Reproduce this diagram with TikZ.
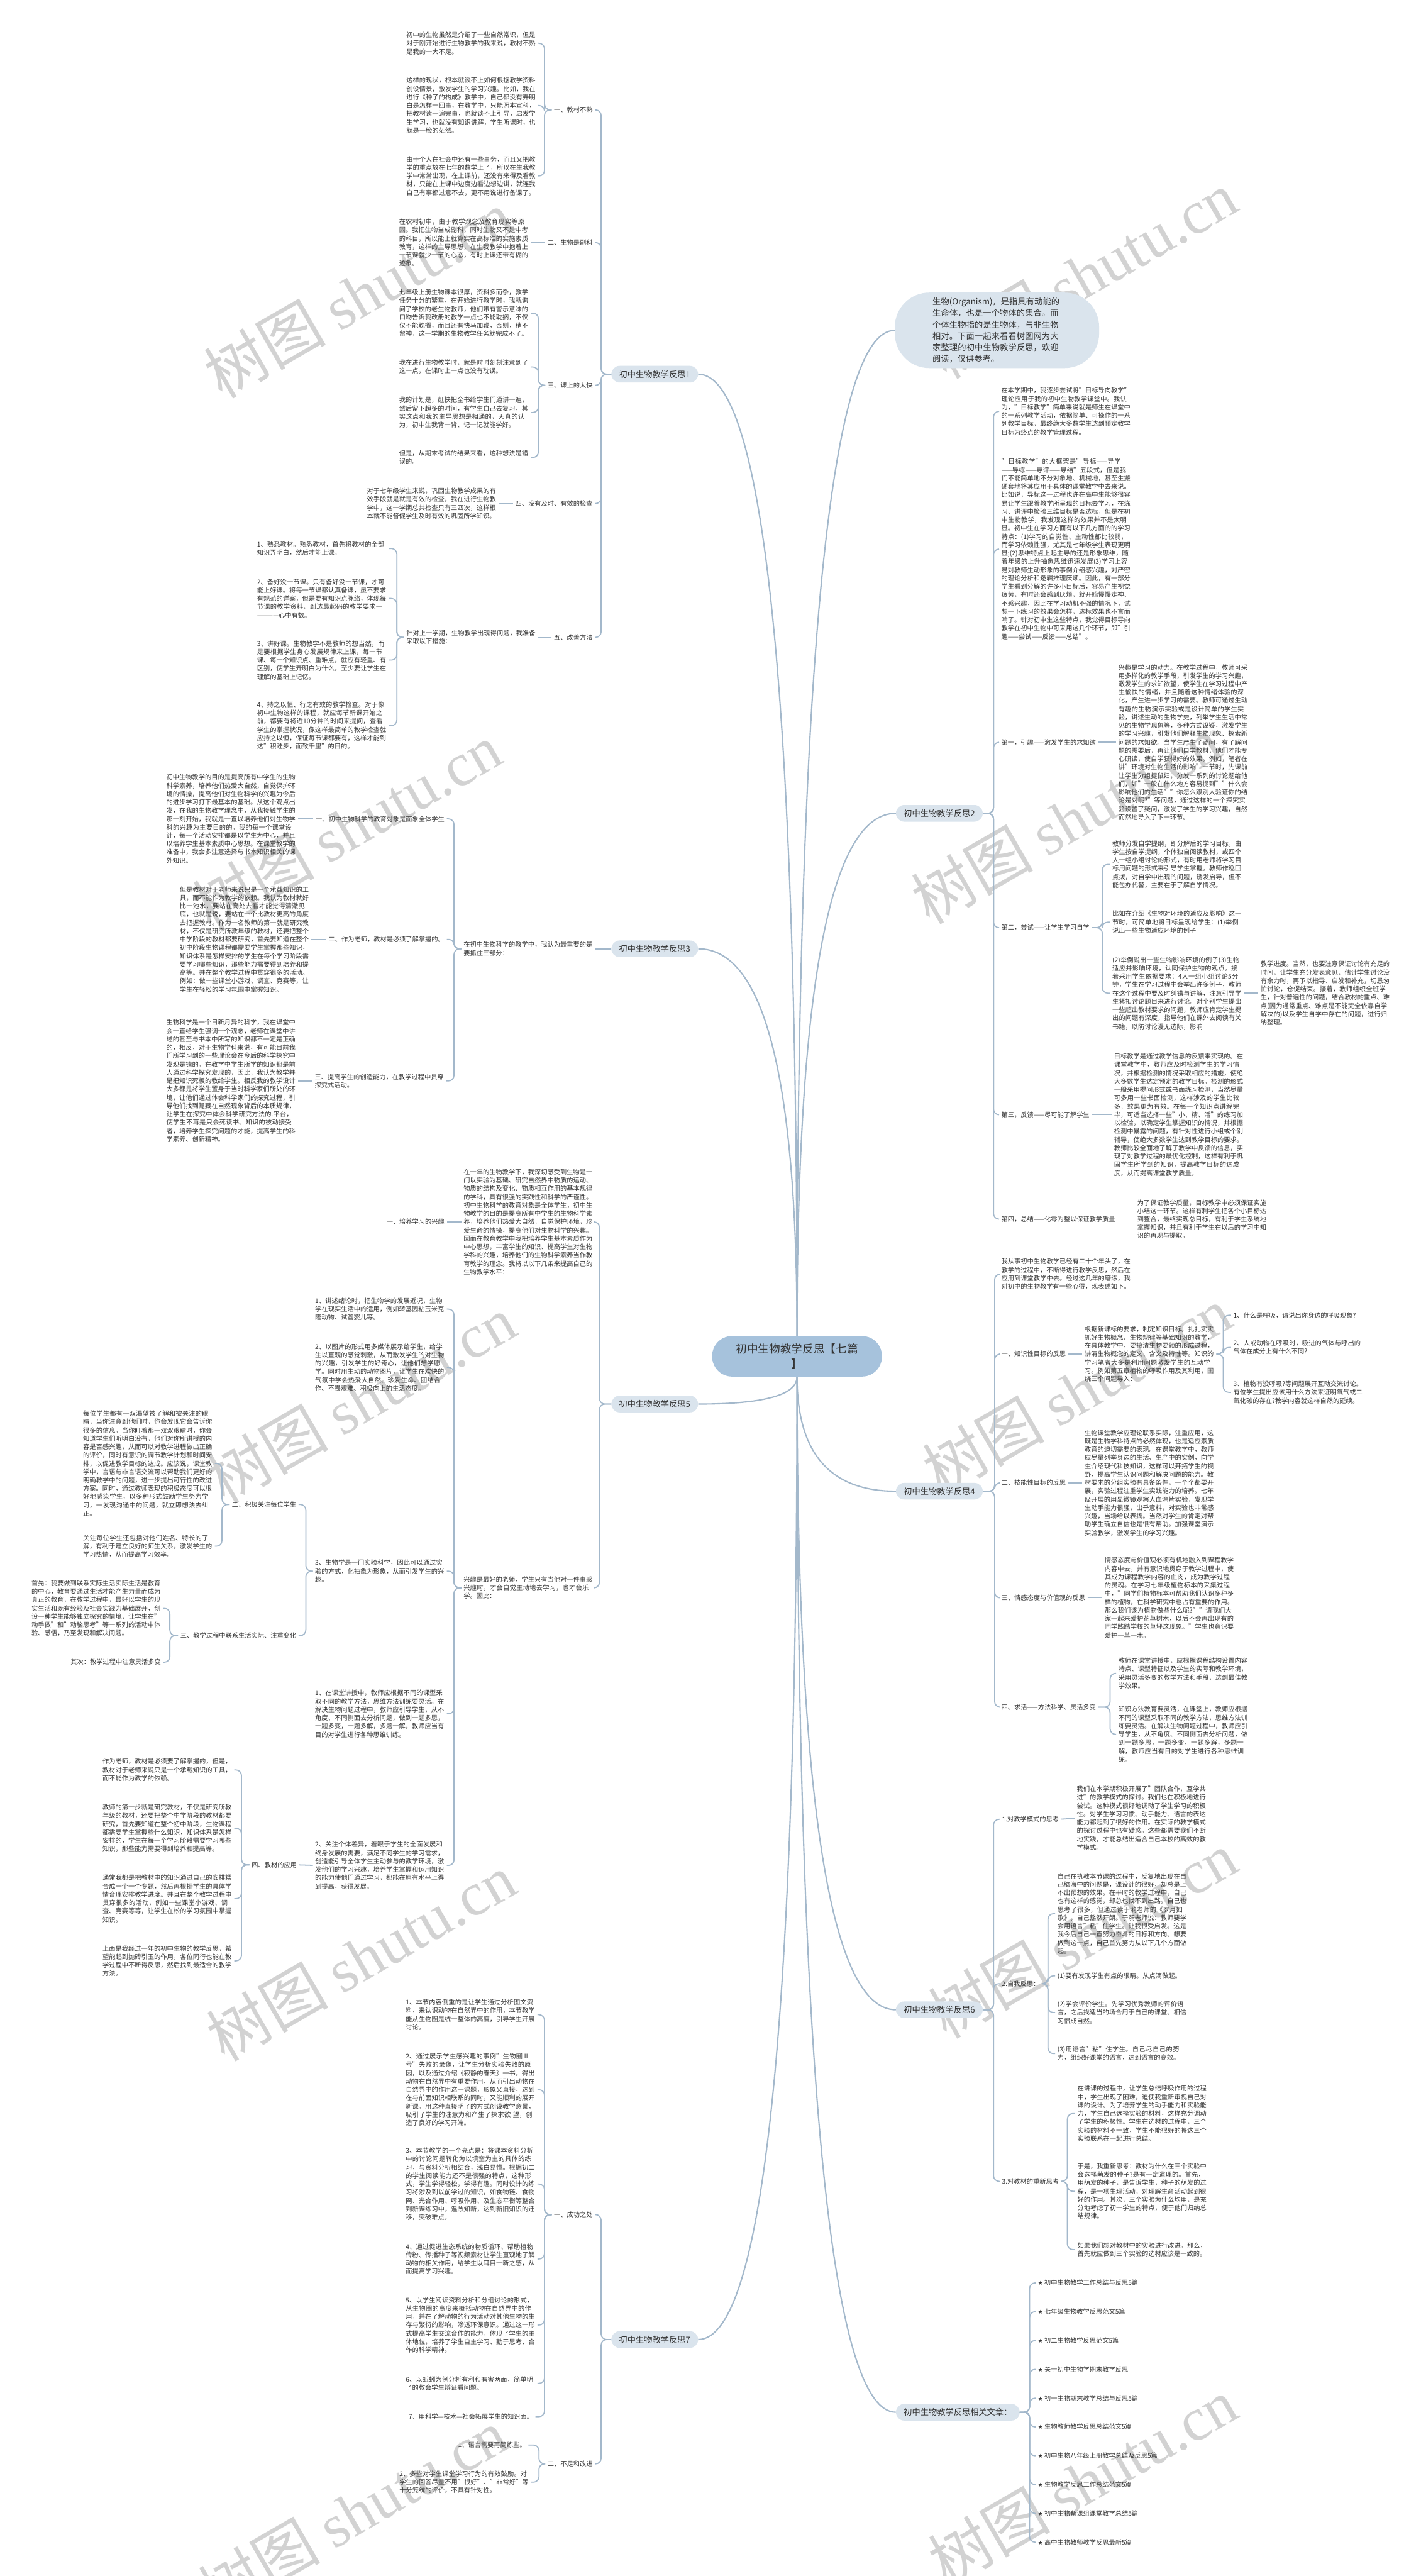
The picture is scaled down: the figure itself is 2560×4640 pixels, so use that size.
\documentclass[tikz,border=0pt]{standalone}
\usepackage{fontspec}
\usetikzlibrary{calc}
\setmainfont{Noto Sans CJK SC}
\newfontfamily\wmserif{Liberation Serif}
\newfontfamily\symfont{DejaVu Sans}
\XeTeXlinebreaklocale "zh"
\XeTeXlinebreakskip = 0pt plus 1pt
\definecolor{lc}{HTML}{A3B8CB}
\definecolor{nf}{HTML}{DAE4ED}
\definecolor{cf}{HTML}{A6C2DC}
\definecolor{tc}{HTML}{333333}
\definecolor{wmc}{HTML}{D2D2D2}
\newcommand\ftxt{\fontsize{11.6}{15}\selectfont}
\newcommand\ftopic{\fontsize{15}{18}\selectfont}
\newcommand\fintro{\fontsize{15}{20.5}\selectfont}
\newcommand\fcenter{\fontsize{20}{27}\selectfont}
\newcommand\fwm{\fontsize{110}{110}\selectfont}
\newcommand\myL[4][tconn]{\draw[#1] (#2.west) -- (#2.west -| #3) |- (#4.east);}
\newcommand\myR[4][tconn]{\draw[#1] (#2.east) -- (#2.east -| #3) |- (#4.west);}
\newcommand\mainc[3]{\draw[mconn] (#3) .. controls ($(#3)!0.667!(#3 |- #1.#2)$) and ($(#1.#2)!0.667!(#3 |- #1.#2)$) .. (#1.#2);}
\tikzset{
 txt/.style={font=\ftxt, text=tc, text width=233pt, align=left, inner sep=0pt},
 lab/.style={font=\ftxt, text=tc, inner sep=0pt},
 topic/.style={font=\ftopic, text=tc, fill=nf, rounded corners=15pt, inner xsep=14pt, inner ysep=0pt, minimum height=30pt},
 tconn/.style={draw=lc, line width=2pt, rounded corners=10pt, shorten <=4pt, shorten >=4pt},
 nconn/.style={draw=lc, line width=2pt, rounded corners=10pt, shorten >=4pt},
 mconn/.style={draw=lc, line width=2.4pt},
 wm/.style={text=wmc, font=\fwm, rotate=30, inner sep=0pt},
}
\begin{document}
\begin{tikzpicture}[x=1pt,y=-1pt]
\useasboundingbox (0,0) rectangle (2560,4640);
\fill[white] (0,0) rectangle (2560,4640);

% watermarks
\foreach \p in {(645,530),(625,1490),(650,2520),(650,3525),(635,4525),(1950,495),(1920,1477),(1940,2505),(1950,3485),(1950,4470)}
  \node[wm] at \p {树图 {\wmserif shutu.cn}};

% coordinates
\coordinate (Cc) at (1436,2443);
\coordinate (Ct) at (1436,2407);
\coordinate (Cb) at (1436,2480);
\coordinate (b1) at (1083,0);
\coordinate (b1a) at (981,0);
\coordinate (b1c) at (970,0);
\coordinate (b1e) at (715,0);
\coordinate (b3) at (818,0);
\coordinate (b5) at (1080,0);
\coordinate (b5b) at (818,0);
\coordinate (b5c) at (551,0);
\coordinate (b5d) at (400,0);
\coordinate (b5e) at (306,0);
\coordinate (b5f) at (435,0);
\coordinate (b7) at (1083,0);
\coordinate (b7a) at (981,0);
\coordinate (b7b) at (971,0);
\coordinate (b2) at (1790,0);
\coordinate (b2b) at (1986,0);
\coordinate (b4) at (1792,0);
\coordinate (b4a) at (2204,0);
\coordinate (b4d) at (2000,0);
\coordinate (b6) at (1790,0);
\coordinate (b6b) at (1888,0);
\coordinate (b6c) at (1923,0);
\coordinate (bR) at (1855,0);

% main topics
\node[topic,anchor=east] (N1) at (1258,674) {初中生物教学反思1};
\node[topic,anchor=east] (N3) at (1258,1709) {初中生物教学反思3};
\node[topic,anchor=east] (N5) at (1258,2529) {初中生物教学反思5};
\node[topic,anchor=east] (N7) at (1258,4214) {初中生物教学反思7};
\node[fill=nf, font=\fintro, text=tc, text width=232pt, align=left, inner xsep=68pt, inner ysep=6pt, minimum height=136pt, rounded corners=62pt, anchor=west] (I) at (1612,595) {生物(Organism)，是指具有动能的生命体，也是一个物体的集合。而个体生物指的是生物体，与非生物相对。下面一起来看看树图网为大家整理的初中生物教学反思，欢迎阅读，仅供参考。};
\node[topic,anchor=west] (N2) at (1614,1465) {初中生物教学反思2};
\node[topic,anchor=west] (N4) at (1614,2686) {初中生物教学反思4};
\node[topic,anchor=west] (N6) at (1614,3620) {初中生物教学反思6};
\node[topic,anchor=west] (NR) at (1614,4345) {初中生物教学反思相关文章：};

\mainc{N1}{east}{Ct}
\mainc{N3}{east}{Ct}
\mainc{N5}{east}{Cb}
\mainc{N7}{east}{Cb}
\mainc{I}{west}{Ct}
\mainc{N2}{west}{Ct}
\mainc{N4}{west}{Cb}
\mainc{N6}{west}{Cb}
\mainc{NR}{west}{Cb}

% center node
\node[fill=cf, text=tc, font=\fcenter, rounded corners=36pt, minimum width=306pt, minimum height=73pt, align=center, inner ysep=4pt] (C) at (Cc) {初中生物教学反思【七篇\\】};

% ===== 反思1 =====
\node[lab,anchor=east] (a1) at (1068,198) {一、教材不熟};
\node[lab,anchor=east] (a2) at (1068,437) {二、生物是副科};
\node[lab,anchor=east] (a3) at (1068,694) {三、课上的太快};
\node[lab,anchor=east] (a4) at (1068,907) {四、没有及时、有效的检查};
\node[lab,anchor=east] (a5) at (1068,1148) {五、改善方法};
\foreach \c in {a1,a2,a3,a4,a5} {\myL[nconn]{N1}{b1}{\c}}
\node[txt,anchor=west] (t1a) at (732,78) {初中的生物虽然是介绍了一些自然常识，但是对于刚开始进行生物教学的我来说，教材不熟是我的一大不足。};
\node[txt,anchor=west] (t1b) at (732,190) {这样的现状，根本就谈不上如何根据教学资料创设情景，激发学生的学习兴趣。比如，我在进行《种子的构成》教学中，自己都没有弄明白是怎样一回事，在教学中，只能照本宣科，把教材读一遍完事，也就谈不上引导，启发学生学习，也就没有知识讲解，学生听课时，也就是一脸的茫然。};
\node[txt,anchor=west] (t1c) at (732,317) {由于个人在社会中还有一些事务，而且又把教学的重点放在七年的数学上了，所以在生我教学中常常出现，在上课前，还没有来得及看教材，只能在上课中边度边看边想边讲，就连我自己有事都过意不去，更不用说进行备课了。};
\foreach \c in {t1a,t1b,t1c} {\myL{a1}{b1a}{\c}}
\node[txt,anchor=west] (t2a) at (719,437) {在农村初中，由于教学观念及教育现实等原因。我把生物当成副科，同时生物又不是中考的科目，所以能上就算实在高标准的实施素质教育，这样的主导思想，在生我教学中抱着上一节课就少一节的心态，有时上课还带有糊的迹象。};
\draw[tconn] (a2.west) -- (t2a.east);
\node[txt,anchor=west] (t3a) at (719,564) {七年级上册生物课本很厚，资料多而杂，教学任务十分的繁重，在开始进行教学时，我就询问了学校的老生物教师，他们带有警示意味的口吻告诉我改册的教学一点也不能耽搁，不仅仅不能耽搁，而且还有快马加鞭，否则，稍不留神，这一学期的生物教学任务就完成不了。};
\node[txt,anchor=west] (t3b) at (719,661) {我在进行生物教学时，就是时时刻刻注意到了这一点，在课时上一点也没有耽误。};
\node[txt,anchor=west] (t3c) at (719,743) {我的计划是，赶快把全书给学生们通讲一遍，然后留下超多的时间，有学生自己去复习，其实这点和我的主导思想是相通的，天真的认为，初中生我背一背、记一记就能学好。};
\node[txt,anchor=west] (t3d) at (719,824) {但是，从期末考试的结果来看，这种想法是错误的。};
\foreach \c in {t3a,t3b,t3c,t3d} {\myL{a3}{b1c}{\c}}
\node[txt,anchor=west] (t4a) at (661,907) {对于七年级学生来说，巩固生物教学成果的有效手段就是就是有效的检查，我在进行生物教学中，这一学期总共检查只有三四次，这样根本就不能督促学生及时有效的巩固所学知识。};
\draw[tconn] (a4.west) -- (t4a.east);
\node[txt,anchor=west] (t5) at (732,1148) {针对上一学期，生物教学出现得问题，我准备采取以下措施：};
\draw[tconn] (a5.west) -- (t5.east);
\node[txt,anchor=west] (t5a) at (463,988) {1、熟悉教材。熟悉教材，首先将教材的全部知识弄明白，然后才能上课。};
\node[txt,anchor=west] (t5b) at (463,1078) {2、备好没一节课。只有备好没一节课，才可能上好课。将每一节课都认真备课，虽不要求有规范的详案，但是要有知识点脉络，体现每节课的教学资料，到达最起码的教学要求一————心中有数。};
\node[txt,anchor=west] (t5c) at (463,1189) {3、讲好课。生物教学不是教师的想当然，而是要根据学生身心发展规律来上课，每一节课、每一个知识点、重难点，就应有轻重、有区别，使学生弄明白为什么，至少要让学生在理解的基础上记忆。};
\node[txt,anchor=west] (t5d) at (463,1307) {4、持之以恒、行之有效的教学检查。对于像初中生物这样的课程，就应每节新课开始之前，都要有将近10分钟的时间来提问，查看学生的掌握状况，像这样最简单的教学检查就应持之以恒，保证每节课都要有，这样才能到达"积跬步，而致千里"的目的。};
\foreach \c in {t5a,t5b,t5c,t5d} {\myL{t5}{b1e}{\c}}

% ===== 反思3 =====
\node[txt,anchor=west] (s3) at (835,1709) {在初中生物科学的教学中，我认为最重要的是要抓住三部分：};
\draw[nconn] (N3.west) -- (s3.east);
\node[lab,anchor=east] (s3a) at (801,1475) {一、初中生物科学的教育对象是面象全体学生};
\node[lab,anchor=east] (s3b) at (801,1692) {二、作为老师，教材是必须了解掌握的。};
\node[txt,anchor=west] (s3c) at (567,1947) {三、提高学生的创造能力，在教学过程中贯穿探究式活动。};
\foreach \c in {s3a,s3b,s3c} {\myL{s3}{b3}{\c}}
\node[txt,anchor=east] (u3a) at (533,1475) {初中生物教学的目的是提高所有中学生的生物科学素养，培养他们热爱大自然，自觉保护环境的情操，提高他们对生物科学的兴趣为今后的进步学习打下最基本的基础。从这个观点出发，在我的生物教学理念中，从我接触学生的那一刻开始，我就是一直以培养他们对生物学科的兴趣为主要目的的。我的每一个课堂设计，每一个活动安排都是以学生为中心，并且以培养学生基本素质中心思想。在课堂教学的准备中，我会多注意选择与书本知识相关的课外知识。};
\node[txt,anchor=east] (u3b) at (557,1692) {但是教材对于老师来说只是一个承载知识的工具，而不能作为教学的依赖。我认为教材就好比一池水，要站在高处去看才能觉得清澈见底，也就是说，要站在一个比教材更高的角度去把握教材。作为一名教师的第一就是研究教材，不仅是研究所教年级的教材，还要把整个中学阶段的教材都要研究，首先要知道在整个初中阶段生物课程都需要学生掌握那些知识，知识体系是怎样安排的学生在每个学习阶段需要学习哪些知识，那些能力需要得到培养和提高等。并在整个教学过程中贯穿很多的活动。例如：做一些课堂小游戏、调查、竞赛等，让学生在轻松的学习氛围中掌握知识。};
\node[txt,anchor=east] (u3c) at (533,1947) {生物科学是一个日新月异的科学，我在课堂中会一直给学生强调一个观念，老师在课堂中讲述的甚至与书本中所写的知识都不一定是正确的，相反，对于生物学科来说，有可能目前我们所学习到的一些理论会在今后的科学探究中发现是错的。在教学中学生所学的知识都是前人通过科学探究发现的，因此，我认为教学并是把知识死板的教给学生。相反我的教学设计大多都是将学生置身于当时科学家们所处的环境，让他们通过体会科学家们的探究过程，引导他们找到隐藏在自然现象背后的本质规律，让学生在探究中体会科学研究方法的.平台，使学生不再是只会死读书、知识的被动接受者，培养学生探究问题的才能，提高学生的科学素养、创新精神。};
\draw[tconn] (s3a.west) -- (u3a.east);
\draw[tconn] (s3b.west) -- (u3b.east);
\draw[tconn] (s3c.west) -- (u3c.east);

% ===== 反思5 =====
\node[txt,anchor=west] (u0) at (835,2201) {在一年的生物教学下，我深切感受到生物是一门以实验为基础、研究自然界中物质的运动、物质的结构及变化、物质相互作用的基本规律的学科，具有很强的实践性和科学的严谨性。初中生物科学的教育对象是全体学生，初中生物教学的目的是提高所有中学生的生物科学素养，培养他们热爱大自然，自觉保护环境，珍爱生命的情操，提高他们对生物科学的兴趣。因而在教育教学中我把培养学生基本素质作为中心思想，丰富学生的知识、提高学生对生物学科的兴趣，培养他们的生物科学素养当作教育教学的理念。我将以以下几条来提高自己的生物教学水平：};
\node[txt,anchor=west] (u1) at (835,2860) {兴趣是最好的老师，学生只有当他对一件事感兴趣时，才会自觉主动地去学习，也才会乐学。因此：};
\myL[nconn]{N5}{b5}{u0}
\myL[nconn]{N5}{b5}{u1}
\node[lab,anchor=east] (u0a) at (801,2201) {一、培养学习的兴趣};
\draw[tconn] (u0.west) -- (u0a.east);
\node[txt,anchor=east] (v1) at (801,2358) {1、讲述绪论时，把生物学的发展近况，生物学在现实生活中的运用，例如转基因粘玉米克隆动物、试管婴儿等。};
\node[txt,anchor=east] (v2) at (801,2463) {2、以图片的形式用多媒体展示给学生，给学生以直观的感觉刺激，从而激发学生的对生物的兴趣，引发学生的好奇心，让他们想学愿学。同时用生动的动物图片，让学生在欢快的气氛中学会热爱大自然、珍爱生命、团结合作、不畏艰难、积极向上的生活态度。};
\node[txt,anchor=east] (v3) at (801,2830) {3、生物学是一门实验科学，因此可以通过实验的方式，化抽象为形象，从而引发学生的兴趣。};
\node[txt,anchor=east] (v4) at (801,3087) {1、在课堂讲授中，教师应根据不同的课型采取不同的教学方法，思维方法训练要灵活。在解决生物问题过程中，教师应引导学生，从不角度、不同侧面去分析问题，做到一题多思，一题多变，一题多解，多题一解，教师应当有目的对学生进行各种思维训练。};
\node[txt,anchor=east] (v5) at (801,3360) {2、关注个体差异，着眼于学生的全面发展和终身发展的需要，满足不同学生的学习需求，创造能引导全体学生主动参与的教学环境，激发他们的学习兴趣，培养学生掌握和运用知识的能力使他们通过学习，都能在原有水平上得到提高，获得发展。};
\foreach \c in {v1,v2,v3,v4,v5} {\myL{u1}{b5b}{\c}}
\node[lab,anchor=east] (w1) at (534,2710) {二、积极关注每位学生};
\node[lab,anchor=east] (w2) at (534,2946) {三、教学过程中联系生活实际、注重变化};
\myL{v3}{b5c}{w1}
\myL{v3}{b5c}{w2}
\node[txt,anchor=east] (x1) at (383,2636) {每位学生都有一双渴望被了解和被关注的眼睛，当你注意到他们时，你会发现它会告诉你很多的信息。当你盯着那一双双眼睛时，你会知道学生们听明白没有，他们对你所讲授的内容是否感兴趣，从而可以对教学进程做出正确的评价，同时有意识的调节教学计划和时间安排，以促进教学目标的达成。应该说，课堂教学中，言语与非言语交流可以帮助我们更好的明确教学中的问题，进一步提出可行性的改进方案。同时，通过教师表现的积极态度可以很好地感染学生，以多种形式鼓励学生努力学习，一发现沟通中的问题，就立即想法去纠正。};
\node[txt,anchor=east] (x2) at (383,2785) {关注每位学生还包括对他们姓名、特长的了解，有利于建立良好的师生关系，激发学生的学习热情，从而提高学习效率。};
\myL{w1}{b5d}{x1}
\myL{w1}{b5d}{x2}
\node[txt,anchor=east] (x3) at (290,2897) {首先：我要做到联系实际生活实际生活是教育的中心，教育要通过生活才能产生力量而成为真正的教育，在教学过程中，最好以学生的现实生活和既有经验及社会实践为基础展开，创设一种学生能够独立探究的情境，让学生在"动手做"和"动脑思考"等一系列的活动中体验、感悟，乃至发现和解决问题。};
\node[lab,anchor=east] (x4) at (290,2994) {其次：教学过程中注意灵活多变};
\myL{w2}{b5e}{x3}
\myL{w2}{b5e}{x4}
\node[lab,anchor=east] (w3) at (535,3359) {四、教材的应用};
\draw[tconn] (v5.west) -- (w3.east);
\node[txt,anchor=east] (y1) at (418,3188) {作为老师，教材是必须要了解掌握的，但是，教材对于老师来说只是一个承载知识的工具，而不能作为教学的依赖。};
\node[txt,anchor=east] (y2) at (418,3293) {教师的第一步就是研究教材，不仅是研究所教年级的教材，还要把整个中学阶段的教材都要研究，首先要知道在整个初中阶段，生物课程都需要学生掌握些什么知识，知识体系是怎样安排的，学生在每一个学习阶段需要学习哪些知识，那些能力需要得到培养和提高等。};
\node[txt,anchor=east] (y3) at (418,3420) {通常我都是把教材中的知识通过自己的安排糅合成一个一个专题，然后再根据学生的具体学情合理安排教学进度。并且在整个教学过程中贯穿很多的活动，例如一些课堂小游戏、调查、竞赛等等，让学生在松的学习氛围中掌握知识。};
\node[txt,anchor=east] (y4) at (418,3532) {上面是我经过一年的初中生物的教学反思，希望能起到抛砖引玉的作用，各位同行也能在教学过程中不断得反思，然后找到最适合的教学方法。};
\foreach \c in {y1,y2,y3,y4} {\myL{w3}{b5f}{\c}}

% ===== 反思7 =====
\node[lab,anchor=east] (g1) at (1068,3989) {一、成功之处};
\node[lab,anchor=east] (g2) at (1068,4438) {二、不足和改进};
\myL[nconn]{N7}{b7}{g1}
\myL[nconn]{N7}{b7}{g2}
\node[txt,anchor=west] (h1) at (731,3629) {1、本节内容侧重的是让学生通过分析图文资料，来认识动物在自然界中的作用，本节教学能从生物圈是统一整体的高度，引导学生开展讨论。};
\node[txt,anchor=west] (h2) at (731,3764) {2、通过展示学生感兴趣的事例"生物圈Ⅱ号"失败的录像，让学生分析实验失败的原因，以及通过介绍《寂静的春天》一书，得出动物在自然界中有重要作用，从而引出动物在自然界中的作用这一课题，形象又直接，达到在与前面知识相联系的同时，又能顺利的展开新课。用这种直接明了的方式创设教学意景，吸引了学生的注意力和产生了探求欲 望，创造了良好的学习开端。};
\node[txt,anchor=west] (h3) at (731,3934) {3、本节教学的一个亮点是：将课本资料分析中的讨论问题转化为以填空为主的具体的练习，与资料分析相结合，浅白易懂。根据初二的学生阅读能力还不是很强的特点，这种形式，学生学得轻松，学得有趣。同时设计的练习将涉及到以前学过的知识，如食物链、食物网、光合作用、呼吸作用、及生态平衡等整合到新课练习中，温故知新，达到新旧知识的迁移，突破难点。};
\node[txt,anchor=west] (h4) at (731,4069) {4、通过促进生态系统的物质循环、帮助植物传粉、传播种子等视频素材让学生直观地了解动物的相关作用，给学生以耳目一新之感，从而提高学习兴趣。};
\node[txt,anchor=west] (h5) at (731,4188) {5、以学生阅读资料分析和分组讨论的形式，从生物圈的高度来概括动物在自然界中的作用，并在了解动物的行为活动对其他生物的生存与繁衍的影响，渗透环保意识。通过这一形式提高学生交流合作的能力，体现了学生的主体地位，培养了学生自主学习、勤于思考、合作的科学精神。};
\node[txt,anchor=west] (h6) at (731,4293) {6、以蚯蚓为例分析有利和有害两面，简单明了的教会学生辩证看问题。};
\node[lab,anchor=west] (h7) at (736,4353) {7、用科学—技术—社会拓展学生的知识面。};
\foreach \c in {h1,h2,h3,h4,h5,h6,h7} {\myL{g1}{b7a}{\c}}
\node[lab,anchor=east] (k1) at (948,4404) {1、语言需要再简练些。};
\node[txt,anchor=east] (k2) at (953,4471) {2、多些对学生课堂学习行为的有效鼓励。对学生的回答尽量不用"很好"、"非常好"等十分笼统的评价，不具有针对性。};
\myL{g2}{b7b}{k1}
\myL{g2}{b7b}{k2}

% ===== 反思2 =====
\node[txt,anchor=west] (p1) at (1804,741) {在本学期中，我逐步尝试将"目标导向教学"理论应用于我的初中生物教学课堂中。我认为，"目标教学"简单来说就是师生在课堂中的一系列教学活动，依据简单、可操作的一系列教学目标，最终绝大多数学生达到预定教学目标为终点的教学管理过程。};
\node[txt,anchor=west] (p2) at (1804,989) {"目标教学"的大框架是"导标——导学——导练——导评——导结"五段式，但是我们不能简单地不分对象地、机械地，甚至生搬硬套地将其应用于具体的课堂教学中去来说。比如说，导标这一过程也许在高中生能够很容易让学生跟着教学所呈现的目标去学习，在练习、讲评中检验三维目标是否达标，但是在初中生物教学，我发现这样的效果并不是太明显。初中生在学习方面有以下几方面的的学习特点：(1)学习的自觉性、主动性都比较弱，而学习依赖性强，尤其是七年级学生表现更明显;(2)思维特点上起主导的还是形象思维，随着年级的上升抽象思维迅速发展(3)学习上容易对教师生动形象的事例介绍感兴趣，对严密的理论分析和逻辑推理厌烦。因此，有一部分学生看到分解的许多小目标后，容易产生视觉疲劳，有时还会感到厌烦，就开始慢慢走神、不感兴趣，因此在学习动机不强的情况下，试想一下练习的效果会怎样，达标效果也不言而喻了。针对初中生这些特点，我觉得目标导向教学在初中生物中可采用这几个环节，即"引趣——尝试——反馈——总结"。};
\node[lab,anchor=west] (p3) at (1804,1337) {第一，引趣——激发学生的求知欲};
\node[lab,anchor=west] (p4) at (1804,1671) {第二，尝试——让学生学习自学};
\node[lab,anchor=west] (p5) at (1804,2008) {第三，反馈——尽可能了解学生};
\node[lab,anchor=west] (p6) at (1804,2196) {第四，总结——化零为整以保证教学质量};
\foreach \c in {p1,p2,p3,p4,p5,p6} {\myR[nconn]{N2}{b2}{\c}}
\node[txt,anchor=west] (q1) at (2015,1337) {兴趣是学习的动力。在教学过程中，教师可采用多样化的教学手段，引发学生的学习兴趣，激发学生的求知欲望，使学生在学习过程中产生愉快的情绪，并且随着这种情绪体验的深化，产生进一步学习的需要。教师可通过生动有趣的生物演示实验或是设计简单的学生实验，讲述生动的生物学史，列举学生生活中常见的生物学现象等，多种方式设疑，激发学生的学习兴趣，引发他们解释生物现象、探索新问题的求知欲。当学生产生了疑问，有了解问题的需要后，再让他们自学教材，他们才能专心研读，使自学获得好的效果。例如，笔者在讲"环境对生物生活的影响"一节时，先课前让学生分组捉鼠妇，分发一系列的讨论题给他们，如"一般在什么地方容易捉到""什么会影响他们的生活""你怎么跟别人验证你的结论是对呢?"等问题，通过这样的一个探究实验设置了疑问，激发了学生的学习兴趣，自然而然地导入了下一环节。};
\draw[tconn] (p3.east) -- (q1.west);
\node[txt,anchor=west] (q2a) at (2004,1557) {教师分发自学提纲，即分解后的学习目标，由学生按自学提纲，个体独自阅读教材，或四个人一组小组讨论的形式，有时用老师将学习目标用问题的形式来引导学生掌握。教师作巡回点拨，对自学中出现的问题，诱发启导，但不能包办代替，主要在于了解自学情况。};
\node[txt,anchor=west] (q2b) at (2004,1661) {比如在介绍《生物对环境的适应及影响》这一节时，可简单地将目标呈现给学生：(1)举例说出一些生物适应环境的例子};
\node[txt,anchor=west] (q2c) at (2004,1789) {(2)举例说出一些生物影响环境的例子(3)生物适应并影响环境，认同保护生物的观点。接着采用学生依据要求：4人一组小组讨论5分钟，学生在学习过程中会举出许多例子，教师在这个过程中要及时纠错与讲解，注意引导学生紧扣讨论题目来进行讨论。对个别学生提出一些超出教材要求的问题，教师应肯定学生提出的问题有深度，指导他们在课外去阅读有关书籍，以防讨论漫无边际，影响};
\foreach \c in {q2a,q2b,q2c} {\myR{p4}{b2b}{\c}}
\node[txt,anchor=west] (q2d) at (2271,1789) {教学进度。当然，也要注意保证讨论有充足的时间，让学生充分发表意见，估计学生讨论没有余力时，再予以指导、启发和补充，切忌匆忙讨论，仓促结束。接着，教师组织全班学生，针对普遍性的问题，结合教材的重点、难点(因为通常重点、难点是不能完全依靠自学解决的)以及学生自学中存在的问题，进行归纳整理。};
\draw[tconn] (q2c.east) -- (q2d.west);
\node[txt,anchor=west] (q3) at (2007,2008) {目标教学是通过教学信息的反馈来实现的。在课堂教学中，教师应及时检测学生的学习情况，并根据检测的情况采取相应的措施，使绝大多数学生达定预定的教学目标。检测的形式一般采用提问形式或书面练习检测，当然尽量可多用一些书面检测，这样涉及的学生比较多，效果更为有效。在每一个知识点讲解完毕，可适当选择一些"小、精、活"的练习加以检验，以确定学生掌握知识的情况，并根据检测中暴露的问题，有针对性进行小组或个别辅导，使绝大多数学生达到教学目标的要求。教师比较全面地了解了教学中反馈的信息，实现了对教学过程的最优化控制，这样有利于巩固学生所学到的知识，提高教学目标的达成度，从而提高课堂教学质量。};
\draw[tconn] (p5.east) -- (q3.west);
\node[txt,anchor=west] (q4) at (2049,2196) {为了保证教学质量，目标教学中必须保证实施小结这一环节。这样有利学生把各个小目标达到整合，最终实现总目标，有利于学生系统地掌握知识，并且有利于学生在以后的学习中知识的再现与提取。};
\draw[tconn] (p6.east) -- (q4.west);

% ===== 反思4 =====
\node[txt,anchor=west] (r1) at (1804,2295) {我从事初中生物教学已经有二十个年头了，在教学的过程中，不断得进行教学反思，然后在应用到课堂教学中去。经过这几年的磨练，我对初中的生物教学有一些心得，现表述如下。};
\node[lab,anchor=west] (r2) at (1804,2439) {一、知识性目标的反思};
\node[lab,anchor=west] (r3) at (1804,2671) {二、技能性目标的反思};
\node[lab,anchor=west] (r4) at (1804,2878) {三、情感态度与价值观的反思};
\node[lab,anchor=west] (r5) at (1804,3075) {四、求活——方法科学、灵活多变};
\foreach \c in {r1,r2,r3,r4,r5} {\myR[nconn]{N4}{b4}{\c}}
\node[txt,anchor=west] (r2t) at (1954,2439) {根据新课标的要求，制定知识目标。扎扎实实抓好生物概念、生物规律等基础知识的教学，在具体教学中，要搞清生物要领的形成过程，讲清生物概念的定义、含义及特性等。知识的学习笔者大多是利用问题激发学生的互动学习。例如第五章植物的呼吸作用及其利用，围绕三个问题导入：};
\draw[tconn] (r2.east) -- (r2t.west);
\node[lab,anchor=west] (r2a) at (2222,2369) {1、什么是呼吸，请说出你身边的呼吸现象?};
\node[txt,anchor=west] (r2b) at (2222,2427) {2、人或动物在呼吸时，吸进的气体与呼出的气体在成分上有什么不同?};
\node[txt,anchor=west] (r2c) at (2222,2508) {3、植物有没呼吸?等问题展开互动交流讨论。有位学生提出应该用什么方法来证明氧气或二氧化碳的存在?教学内容就这样自然的延续。};
\foreach \c in {r2a,r2b,r2c} {\myR{r2t}{b4a}{\c}}
\node[txt,anchor=west] (r3t) at (1954,2671) {生物课堂教学应理论联系实际，注重应用，这既是生物学科特点的必然体现，也是适应素质教育的迫切需要的表现。在课堂教学中，教师应尽量列举身边的生活、生产中的实例，向学生介绍现代科技知识，这样可以开拓学生的视野，提高学生认识问题和解决问题的能力。教材要求的分组实验有具备条件，一个个都要开展，实验过程注重学生实践能力的培养。七年级开展的用显微镜观察人血涂片实验，发现学生动手能力很强，出乎意料，对实验也非常感兴趣，当场给以表扬。当然对学生的肯定对帮助学生确立自信也是很有帮助。加强课堂演示实验教学，激发学生的学习兴趣。};
\draw[tconn] (r3.east) -- (r3t.west);
\node[txt,anchor=west] (r4t) at (1990,2878) {情感态度与价值观必须有机地融入到课程教学内容中去，并有意识地贯穿于教学过程中，使其成为课程教学内容的血肉，成为教学过程的灵魂。在学习七年级植物标本的采集过程中，"同学们植物标本可帮助我们认识多种多样的植物，在科学研究中也占有重要的作用。那么我们该为植物做些什么呢?""请我们大家一起来爱护花草树木，以后不会再出现有的同学践踏学校的草坪这现象。"学生也意识要爱护一草一木。};
\draw[tconn] (r4.east) -- (r4t.west);
\node[txt,anchor=west] (r5a) at (2015,3014) {教师在课堂讲授中，应根据课程结构设置内容特点、课型特征以及学生的实际和教学环境，采用灵活多变的教学方法和手段，达到最佳教学效果。};
\node[txt,anchor=west] (r5b) at (2015,3124) {知识方法教育要灵活，在课堂上，教师应根据不同的课型采取不同的教学方法，思维方法训练要灵活。在解决生物问题过程中，教师应引导学生，从不角度、不同侧面去分析问题，做到一题多思，一题多变，一题多解，多题一解，教师应当有目的对学生进行各种思维训练。};
\myR{r5}{b4d}{r5a}
\myR{r5}{b4d}{r5b}

% ===== 反思6 =====
\node[lab,anchor=west] (m1) at (1805,3277) {1.对教学模式的思考};
\node[lab,anchor=west] (m2) at (1805,3573) {2.自我反思：};
\node[lab,anchor=west] (m3) at (1805,3929) {3.对教材的重新思考};
\foreach \c in {m1,m2,m3} {\myR[nconn]{N6}{b6}{\c}}
\node[txt,anchor=west] (m1t) at (1940,3275) {我们在本学期积极开展了"团队合作，互学共进"的教学模式的探讨。我们也在积极地进行尝试。这种模式很好地调动了学生学习的积极性。对学生学习习惯、动手能力、语言的表达能力都起到了很好的作用。在实际的教学模式的探讨过程中也有疑惑。这些都需要我们不断地实践，才能总结出适合自己本校的高效的教学模式。};
\draw[tconn] (m1.east) -- (m1t.west);
\node[txt,anchor=west] (m2a) at (1905,3447) {自己在执教本节课的过程中，反复地出现在自己脑海中的问题是，课设计的很好，却总是上不出预想的效果。在平时的教学过程中，自己也有这样的感觉，却总也找不到出路。自己也思考了很多，但通过读于漪老师的《岁月如歌》，自己豁然开朗。于漪老师说：教师要学会用语言"粘"住学生。让我很受启发。这是我今后自己一直努力奋斗的目标和方向。想要做到这一点，自己首先努力从以下几个方面做起。};
\node[lab,anchor=west] (m2b) at (1905,3559) {(1)要有发现学生有点的眼睛。从点滴做起。};
\node[txt,anchor=west] (m2c) at (1905,3625) {(2)学会评价学生。先学习优秀教师的评价语言，之后找适当的场合用于自己的课堂。相信习惯成自然。};
\node[txt,anchor=west] (m2d) at (1905,3699) {(3)用语言"粘"住学生。自己尽自己的努力，组织好课堂的语言，达到语言的高效。};
\foreach \c in {m2a,m2b,m2c,m2d} {\myR{m2}{b6b}{\c}}
\node[txt,anchor=west] (m3a) at (1941,3807) {在讲课的过程中，让学生总结呼吸作用的过程中，学生出现了困难，迫使我重新审视自己对课的设计。为了培养学生的动手能力和实验能力，学生自己选择实验的材料，这样充分调动了学生的积极性。学生在选材的过程中，三个实验的材料不一致，学生不能很好的将这三个实验联系在一起进行总结。};
\node[txt,anchor=west] (m3b) at (1941,3947) {于是，我重新思考：教材为什么在三个实验中会选择萌发的种子?是有一定道理的。首先，用萌发的种子，是告诉学生，种子的萌发的过程，是一项生理活动。对理解生命活动起到很好的作用。其次，三个实验为什么均用，是充分地考虑了初一学生的特点，便于他们归纳总结规律。};
\node[txt,anchor=west] (m3c) at (1941,4052) {如果我们想对教材中的实验进行改进。那么，首先就应做到三个实验的选材应该是一致的。};
\foreach \c in {m3a,m3b,m3c} {\myR{m3}{b6c}{\c}}

% ===== 相关文章 =====
\foreach \t [count=\i from 0] in {初中生物教学工作总结与反思5篇,七年级生物教学反思范文5篇,初二生物教学反思范文5篇,关于初中生物学期末教学反思,初一生物期末教学总结与反思5篇,生物教师教学反思总结范文5篇,初中生物八年级上册教学总结及反思5篇,生物教学反思工作总结范文5篇,初中生物备课组课堂教学总结5篇,高中生物教师教学反思最新5篇}{
  \node[lab,anchor=west] (L\i) at (1870,4112+51.9*\i) {{\symfont\fontsize{10}{12}\selectfont ★} \t};
  \myR[nconn]{NR}{bR}{L\i}
}
\end{tikzpicture}
\end{document}
